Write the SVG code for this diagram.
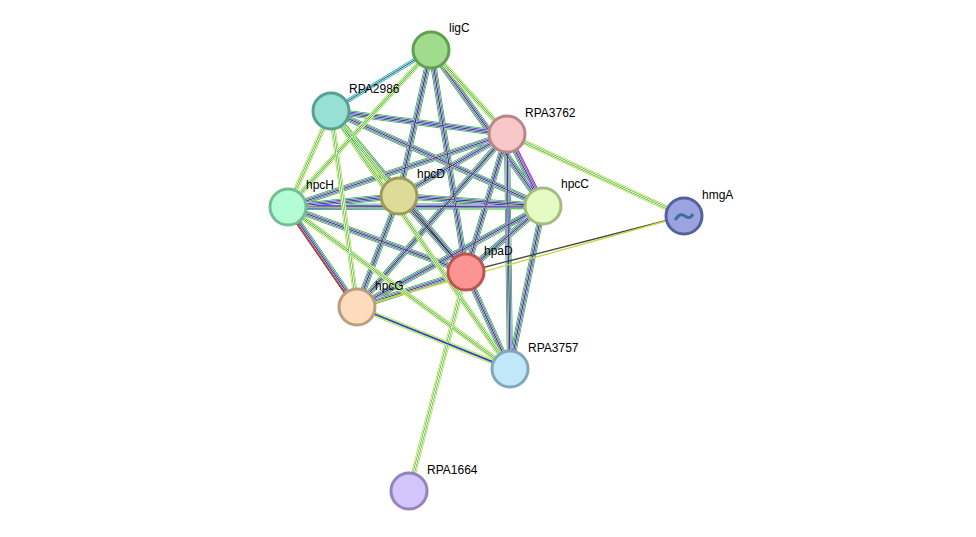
<svg xmlns="http://www.w3.org/2000/svg" width="976" height="537" viewBox="0 0 976 537">
<style>
.n{stroke-width:3}
.t{font-family:"Liberation Sans",Arial,sans-serif;font-size:12px;fill:#000}
</style>
<defs>
<path id="r1" d="M431,50L466,272M507,134L466,272M507,134L399,196M507,134L543,206M507,134L288,207M507,134L357,307M507,134L510,369M399,196L543,206M399,196L288,207M399,196L466,272M399,196L357,307M543,206L288,207M543,206L466,272M543,206L357,307M543,206L510,369M288,207L466,272M288,207L357,307M466,272L357,307M466,272L510,369M331,111L507,134M331,111L466,272M331,111L543,206M431,50L399,196M431,50L543,206" fill="none"/>
<path id="g2" d="M431,50L507,134M431,50L288,207M331,111L288,207M331,111L357,307M331,111L399,196M331,111L510,369M507,134L684,216M288,207L510,369M409,491L466,272M357,307L510,369" fill="none"/>
</defs>
<rect width="976" height="537" fill="#fff"/>
<g id="connectors">
<use href="#r1" stroke="#2ab52a" stroke-width="6"/>
<use href="#r1" stroke="#fff" stroke-width="4.4"/>
<use href="#r1" stroke="#2020f0" stroke-width="3.4"/>
<use href="#r1" stroke="#fff" stroke-width="2.2"/>
<use href="#r1" stroke="#444" stroke-width="1.2"/>
<path d="M431,50L331,111" stroke="#30c0d8" stroke-width="4" fill="none"/>
<path d="M431,50L331,111" stroke="#fff" stroke-width="2" fill="none"/>
<path d="M431,50L331,111" stroke="#444" stroke-width="1" fill="none"/>
<use href="#g2" stroke="#c8d840" stroke-width="5"/>
<use href="#g2" stroke="#fff" stroke-width="3.4"/>
<use href="#g2" stroke="#2ab52a" stroke-width="2.2"/>
<use href="#g2" stroke="#fff" stroke-width="1"/>
<path d="M357,307L510,369" stroke="#2020f0" stroke-width="1.2"/>
<path d="M510,134L546,206" stroke="#d030d0" stroke-width="1.2"/>
<path d="M466,272L684,216" stroke="#444" stroke-width="1.3"/>
<path d="M357,307L684,216" stroke="#c8d840" stroke-width="1.3"/>
<path d="M286,208L355,308" stroke="#e02020" stroke-width="1.2"/>
</g>
<g id="ligC"><circle cx="431" cy="50" r="18" fill="#a0dc8c" stroke="#60a050" class="n"/><text class="t" x="449" y="32">ligC</text></g>
<g id="RPA2986"><circle cx="331" cy="111" r="18" fill="#98e0d4" stroke="#58a094" class="n"/><text class="t" x="349" y="93">RPA2986</text></g>
<g id="RPA3762"><circle cx="507" cy="134" r="18" fill="#f8c8c8" stroke="#b88888" class="n"/><text class="t" x="525" y="117">RPA3762</text></g>
<g id="hpcD"><circle cx="399" cy="196" r="18" fill="#dcdc98" stroke="#9c9c58" class="n"/><text class="t" x="417" y="178">hpcD</text></g>
<g id="hpcC"><circle cx="543" cy="206" r="18" fill="#e4fcc4" stroke="#a4bc84" class="n"/><text class="t" x="561" y="188">hpcC</text></g>
<g id="hpcH"><circle cx="288" cy="207" r="18" fill="#b4fcd4" stroke="#74bc94" class="n"/><text class="t" x="306" y="189">hpcH</text></g>
<g id="hmgA"><circle cx="684" cy="216" r="18" fill="#9ca4e0" stroke="#5460a0" class="n"/><path d="M675,220q5,-8 10,-4t8,-2" stroke="#3a70a0" stroke-width="3" fill="none"/><text class="t" x="702" y="199">hmgA</text></g>
<g id="hpaD"><circle cx="466" cy="272" r="18" fill="#fc9494" stroke="#bc5454" class="n"/><text class="t" x="484" y="255">hpaD</text></g>
<g id="hpcG"><circle cx="357" cy="307" r="18" fill="#fcdcbc" stroke="#bc9c7c" class="n"/><text class="t" x="375" y="290">hpcG</text></g>
<g id="RPA3757"><circle cx="510" cy="369" r="18" fill="#c0e8f8" stroke="#80a8bc" class="n"/><text class="t" x="528" y="352">RPA3757</text></g>
<g id="RPA1664"><circle cx="409" cy="491" r="18" fill="#d4c4fc" stroke="#9484bc" class="n"/><text class="t" x="427" y="474">RPA1664</text></g>
</svg>
